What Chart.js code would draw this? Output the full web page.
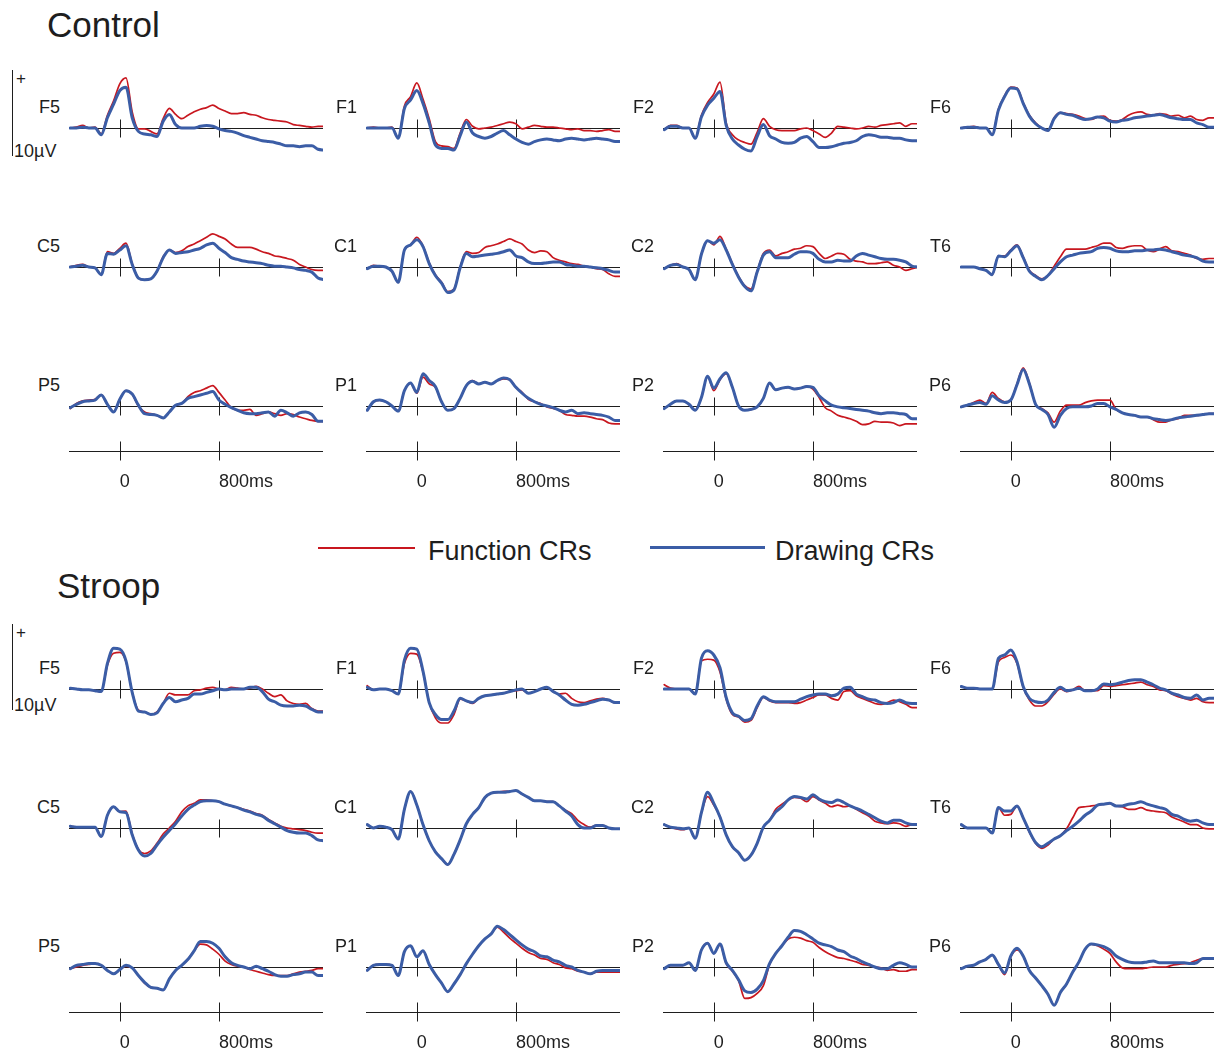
<!DOCTYPE html>
<html>
<head>
<meta charset="utf-8">
<title>ERP waveforms: Function CRs vs Drawing CRs</title>
<script src="https://cdn.jsdelivr.net/npm/chart.js@4.4.1/dist/chart.umd.min.js"></script>
<style>
  html, body { margin: 0; padding: 0; background: #ffffff; }
  #fig { position: relative; width: 1214px; height: 1051px; overflow: hidden; background: #ffffff; }
  #fig canvas { position: absolute; }
</style>
</head>
<body>
<div id="fig"></div>
<script>
// Sample times (ms) shared by every waveform
const times = [-400,-350,-300,-250,-200,-150,-100,-50,0,50,100,150,200,250,300,350,400,450,500,550,600,650,700,750,800,850,900,950,1000,1050,1100,1150,1200,1250,1300,1350,1400,1450,1500,1550,1600,1650];
const electrodes = ['F5','F1','F2','F6','C5','C1','C2','T6','P5','P1','P2','P6'];
const timeTicks = [0, 800];
const timeTickLabels = ['0', '800ms'];
const seriesNames = ['Function CRs', 'Drawing CRs'];

// ---- Control task (µV) ----
const controlF5Function = [0,0.1,0.3,0,0.1,-0.7,1.5,3.2, 5.2,5.9,1.9,-0.1,-0.1,-0.4,-0.7,1.1, 2.3,1.6,1.1,1.5,1.9,2.2,2.4,2.7, 2.3,2.0,1.7,1.7,1.8,1.6,1.5,1.2, 1.0,0.9,0.8,0.7,0.4,0.3,0.2,0.1, 0.2,0.2];
const controlF5Drawing  = [0,0,0.1,0,0,-0.8,1.2,2.8, 4.4,4.8,1.2,-0.4,-0.7,-0.8,-1.0,0.8, 1.6,0.4,0,0,0,0.2,0.3,0.2, -0.1,-0.3,-0.4,-0.6,-0.9,-1.1,-1.3,-1.5, -1.6,-1.7,-1.9,-2.1,-2.1,-2.2,-2.1,-2.1, -2.5,-2.6];
const controlF1Function = [0,0.1,0,0,0.1,-1.2,2.6,3.7, 5.3,3.4,1.1,-1.6,-2.1,-2.2,-2.4,-0.6, 1.0,0.2,-0.1,0,0.1,0.3,0.5,0.7, 0.5,-0.1,0.1,0.3,0.2,0.1,0.1,0, -0.1,-0.2,-0.1,-0.3,-0.3,-0.4,-0.3,-0.2, -0.4,-0.4];
const controlF1Drawing  = [0,0,0,0,0,-1.2,2.3,3.3, 4.4,2.9,0.6,-2.0,-2.4,-2.4,-2.6,-0.9, 0.7,-0.6,-1.0,-1.2,-1.0,-0.6,-0.3,-0.8, -1.3,-1.7,-1.9,-1.6,-1.4,-1.3,-1.4,-1.5, -1.3,-1.2,-1.3,-1.4,-1.3,-1.2,-1.3,-1.4, -1.6,-1.6];
const controlF2Function = [-0.2,0.3,0.3,0,0,-1.2,1.5,3.0, 4.0,5.4,0.6,-0.8,-1.4,-1.7,-1.9,-0.5, 1.1,0.2,-0.2,-0.3,-0.3,-0.3,-0.1,0, -0.3,-0.7,-1.1,-0.6,0.2,0.1,0,-0.1, 0,0.2,0.1,0.3,0.4,0.5,0.6,0.2, 0.5,0.5];
const controlF2Drawing  = [-0.2,0.2,0.2,0,0,-1.2,1.3,2.7, 3.5,4.3,0.3,-1.3,-2.0,-2.5,-2.7,-1.0, 0.4,-0.9,-1.3,-1.7,-1.8,-1.7,-1.2,-1.0, -1.6,-2.3,-2.3,-2.2,-2.0,-1.8,-1.7,-1.5, -1.0,-0.8,-0.9,-1.1,-1.1,-1.2,-1.2,-1.4, -1.5,-1.5];
const controlF6Function = [0,0.1,0.2,0,0,-0.8,2.2,3.8, 4.8,4.7,3.0,1.5,0.6,0,-0.3,1.2, 1.8,1.7,1.6,1.4,1.1,1.0,1.3,1.4, 0.9,0.8,1.0,1.5,1.8,1.9,1.6,1.5, 1.7,1.6,1.4,1.5,1.2,1.4,1.0,0.9, 1.2,1.2];
const controlF6Drawing  = [0,0.1,0.1,0,0,-0.8,2.1,3.7, 4.7,4.6,2.9,1.4,0.5,0,-0.3,1.1, 1.8,1.6,1.5,1.2,1.0,1.1,1.3,1.2, 0.8,0.7,0.9,1.0,1.2,1.3,1.4,1.5, 1.6,1.4,1.2,1.1,1.0,1.0,0.6,0.4, 0.1,0.1];
const controlC5Function = [0,0.2,0.3,0,-0.1,-0.9,1.8,1.6, 2.2,2.8,0.4,-1.3,-1.5,-1.4,-0.5,1.2, 2.0,1.7,1.9,2.4,2.7,3.1,3.5,3.9, 3.6,3.3,2.7,2.3,2.3,2.3,2.1,1.8, 1.6,1.3,1.2,1.0,0.8,0.3,0,-0.3, -0.4,-0.4];
const controlC5Drawing  = [0,0.1,0.2,0,-0.1,-0.9,1.6,1.5, 2.0,2.5,0.3,-1.3,-1.5,-1.4,-0.5,1.1, 2.0,1.6,1.7,1.8,2.0,2.2,2.6,2.8, 2.2,1.7,1.1,0.9,0.7,0.6,0.5,0.4, 0.2,0.1,0.1,0,-0.1,-0.3,-0.4,-0.6, -1.3,-1.5];
const controlC1Function = [-0.2,0.2,0.1,0,-0.5,-1.8,2.0,2.6, 3.5,2.5,0.5,-0.9,-1.8,-2.9,-2.6,0, 1.8,1.6,1.7,2.3,2.5,2.7,3.0,3.3, 3.0,2.7,2.0,1.7,1.9,1.8,1.1,0.8, 0.6,0.4,0.3,0.1,0,-0.2,-0.3,-0.8, -1.1,-1.1];
const controlC1Drawing  = [-0.2,0.1,0.1,0,-0.5,-1.8,2.0,2.6, 3.2,2.4,0.4,-1.0,-1.9,-3.0,-2.7,-0.1, 1.6,1.2,1.3,1.4,1.5,1.6,1.8,2.0, 1.3,1.1,0.6,0.4,0.4,0.5,0.6,0.6, 0.3,0.2,0.1,0.1,0,-0.1,-0.2,-0.4, -0.6,-0.6];
const controlC2Function = [-0.2,0.2,0.4,0,-0.3,-1.5,1.5,3.1, 2.6,3.6,2.1,0.4,-1.1,-2.2,-2.6,-0.5, 1.6,2.0,1.3,1.6,1.8,2.1,2.2,2.5, 2.4,1.6,1.0,1.3,1.6,1.5,0.9,0.7, 0.6,0.4,0.4,0.5,0.6,0.2,0,-0.4, -0.2,0];
const controlC2Drawing  = [-0.2,0.2,0.3,0,-0.3,-1.5,1.5,3.1, 2.8,3.2,2.0,0.3,-1.2,-2.3,-2.8,-0.6, 1.4,1.8,1.1,1.1,1.1,1.5,1.8,1.8, 1.6,0.9,0.6,0.6,0.8,0.7,0.7,1.3, 1.6,1.4,1.2,1.0,0.9,0.9,0.8,0.6, 0.1,0];
const controlT6Function = [0,0,0,-0.2,-0.4,-0.9,1.3,1.3, 2.0,2.6,1.2,-0.4,-1.0,-1.4,-1.0,0.1, 1.2,2.1,2.1,2.1,2.1,2.3,2.5,2.8, 2.8,2.3,2.2,2.4,2.5,2.5,2.0,1.8, 2.1,2.4,1.9,1.8,1.6,1.4,1.0,0.9, 1.0,1.0];
const controlT6Drawing  = [0,0,0,-0.2,-0.4,-0.9,1.3,1.2, 1.9,2.5,1.1,-0.5,-1.1,-1.5,-1.0,-0.2, 0.6,1.2,1.4,1.6,1.7,1.8,2.2,2.3, 2.2,1.9,1.8,1.8,1.9,1.9,2.0,2.0, 2.1,2.0,1.8,1.6,1.4,1.3,1.1,0.7, 0.6,0.6];
const controlP5Function = [-0.3,0.3,0.6,0.7,0.8,1.3,0.2,-0.7, 0.8,1.8,1.4,0,-0.7,-0.9,-1.1,-1.4, -0.7,0.1,0.3,1.1,1.6,1.8,2.1,2.4, 1.6,0.7,-0.2,-0.5,-0.5,-0.4,-1.1,-0.9, -0.7,-0.9,-1.1,-0.9,-1.0,-1.3,-1.5,-1.7, -1.8,-1.8];
const controlP5Drawing  = [-0.2,0.2,0.5,0.6,0.7,1.3,0.2,-0.7, 0.8,1.8,1.4,0.1,-0.9,-1.0,-1.1,-1.4, -0.7,0.1,0.3,0.9,1.1,1.3,1.5,1.7, 0.7,0.2,-0.2,-0.5,-0.8,-0.9,-0.9,-0.8, -0.7,-1.2,-0.5,-0.8,-1.2,-0.8,-0.7,-1.0, -1.8,-1.8];
const controlP1Function = [-0.5,0.5,0.7,0.5,0,-0.6,1.8,2.7, 1.5,3.4,2.6,2.2,0.5,-0.5,-0.3,0.9, 2.4,3.0,2.6,2.8,2.6,3.0,3.2,3.1, 2.2,1.6,0.8,0.5,0.3,-0.1,-0.3,-0.5, -1.0,-1.1,-1.2,-1.2,-1.3,-1.5,-1.6,-2.0, -2.1,-2.1];
const controlP1Drawing  = [-0.5,0.5,0.7,0.5,0,-0.6,1.8,2.7, 1.6,3.8,3.0,2.3,0.5,-0.5,-0.3,0.9, 2.4,2.9,2.6,2.8,2.6,3.0,3.3,3.1, 2.2,1.5,0.9,0.5,0.2,0,-0.2,-0.5, -0.7,-0.5,-0.9,-0.8,-0.9,-1.0,-1.1,-1.3, -1.7,-1.7];
const controlP2Function = [-0.3,0.2,0.6,0.6,0.2,-0.5,1.0,3.5, 1.8,3.1,3.8,2.2,0,-0.5,-0.4,-0.1, 0.9,2.7,1.9,2.1,2.2,2.0,2.1,2.3, 2.0,1.0,-0.2,-0.6,-1.1,-1.3,-1.5,-1.8, -2.2,-2.1,-1.8,-1.9,-1.9,-2.0,-2.3,-2.1, -2.1,-2.1];
const controlP2Drawing  = [-0.3,0.2,0.6,0.6,0.2,-0.5,1.0,3.5, 2.1,3.2,3.9,2.2,0,-0.5,-0.4,-0.1, 0.9,2.7,1.9,2.1,2.2,2.0,2.1,2.3, 2.2,1.2,0.6,0.1,-0.1,-0.2,-0.3,-0.4, -0.5,-0.6,-0.8,-0.9,-0.8,-0.8,-0.9,-1.0, -1.5,-1.5];
const controlP6Function = [-0.1,0.1,0.4,0.7,0.3,1.6,0.9,0.5, 0.7,2.6,4.5,2.7,0.2,-0.3,-0.8,-1.9, -0.6,0.1,0.1,0.1,0.4,0.6,0.7,0.7, 0.7,-0.4,-0.8,-1.0,-1.1,-1.3,-1.3,-1.6, -1.9,-1.9,-1.6,-1.5,-1.1,-1.1,-1.1,-1.0, -0.9,-0.9];
const controlP6Drawing  = [-0.1,0.1,0.3,0.4,0.2,1.2,0.7,0.4, 0.7,2.5,4.3,2.6,0.2,-0.4,-1.0,-2.5, -1.1,-0.3,-0.1,-0.1,-0.1,0,0.3,0.3, -0.1,-0.4,-0.8,-1.0,-1.1,-1.3,-1.3,-1.5, -1.6,-1.7,-1.6,-1.4,-1.3,-1.2,-1.1,-1.0, -0.9,-0.9];

// ---- Stroop task (µV) ----
const stroopF5Function = [0.1,0,-0.1,-0.1,-0.2,-0.3,2.8,4.2, 4.3,3.2,-0.4,-2.5,-2.7,-3.0,-2.7,-1.7, -0.5,-0.7,-0.7,-0.7,-0.2,-0.1,0.1,0.2, 0,-0.1,0.2,0.1,0,0.1,0.3,0, -0.5,-0.9,-0.7,-1.4,-1.7,-1.8,-1.7,-2.3, -2.6,-2.6];
const stroopF5Drawing  = [0.1,0,-0.1,-0.1,-0.2,-0.3,3.0,4.8, 4.7,3.3,-0.4,-2.6,-2.7,-3.0,-2.8,-1.7, -1.0,-1.5,-1.3,-1.1,-0.6,-0.6,-0.4,-0.2, 0,-0.1,0,0,0,0.2,0.2,-0.3, -1.2,-1.5,-1.9,-2.0,-2.0,-1.9,-2.0,-2.4, -2.7,-2.7];
const stroopF1Function = [0.4,-0.1,0,0,-0.2,-0.6,3.0,4.2, 4.1,2.0,-1.6,-3.4,-4.0,-4.0,-3.0,-1.2, -1.4,-1.7,-1.1,-0.8,-0.7,-0.6,-0.5,-0.3, -0.2,-0.1,-0.5,-0.3,0,0.2,-0.3,-0.6, -0.5,-1.1,-1.5,-1.6,-1.4,-1.2,-1.1,-1.3, -1.6,-1.6];
const stroopF1Drawing  = [0.2,-0.1,0,0,-0.2,-0.6,3.4,4.8, 4.7,2.1,-1.6,-3.0,-3.6,-3.6,-2.6,-1.1, -1.4,-1.6,-1.1,-0.8,-0.7,-0.6,-0.5,-0.3, -0.1,0,-0.5,-0.3,0,0.2,-0.3,-0.7, -1.3,-1.8,-1.9,-1.8,-1.6,-1.4,-1.2,-1.3, -1.6,-1.6];
const stroopF2Function = [0.5,0.1,0,0,0,-0.6,3.3,3.5, 3.4,2.0,-1.2,-3.0,-3.3,-3.9,-3.7,-2.2, -1.0,-1.4,-1.6,-1.6,-1.6,-1.7,-1.6,-1.3, -1.0,-0.7,-0.7,-1.1,-1.3,-0.3,-0.2,-0.8, -1.1,-1.4,-1.7,-1.8,-1.6,-1.3,-1.5,-1.8, -2.2,-2.2];
const stroopF2Drawing  = [0,0,0,0,0,-0.6,3.6,4.5, 4.0,2.5,-1.0,-2.8,-3.2,-3.7,-3.5,-2.0, -0.9,-1.3,-1.5,-1.5,-1.5,-1.5,-1.2,-0.9, -0.7,-0.6,-0.6,-0.8,-0.6,0.1,0.2,-0.6, -0.9,-1.2,-1.3,-1.6,-1.7,-1.6,-1.3,-1.6, -1.7,-1.7];
const stroopF6Function = [0.3,0.1,0.1,0,0,0,3.2,3.7, 4.0,3.0,0.2,-1.3,-2.0,-2.0,-1.5,-0.6, 0,-0.3,-0.1,0.3,-0.2,-0.2,-0.2,0.4, 0.3,0.4,0.5,0.6,0.7,0.8,0.5,0.3, -0.1,-0.2,-0.6,-0.9,-1.1,-1.3,-1.1,-1.5, -1.6,-1.6];
const stroopF6Drawing  = [0.3,0.1,0.1,0,0,0,3.6,4.0, 4.6,3.2,0.3,-1.1,-1.5,-1.6,-1.3,-0.4, 0.2,-0.2,-0.1,0.1,-0.2,-0.2,0,0.6, 0.5,0.6,0.8,1.0,1.1,1.1,0.8,0.5, 0.1,-0.1,-0.5,-0.7,-1.0,-1.1,-0.7,-1.3, -1.1,-1.1];
const stroopC5Function = [0.2,0.1,0.1,0.1,0.1,-1.0,1.5,2.5, 1.9,2.0,-0.7,-2.5,-3.0,-2.7,-1.8,-0.7, 0,0.8,1.9,2.6,2.9,3.3,3.3,3.2, 3.1,2.8,2.6,2.4,2.2,2.0,1.7,1.5, 1.0,0.6,0.2,0,-0.1,-0.2,-0.3,-0.5, -0.6,-0.6];
const stroopC5Drawing  = [0.2,0.1,0.1,0.1,0.1,-1.0,1.5,2.5, 1.9,1.8,-0.8,-2.6,-3.3,-3.0,-2.0,-1.1, -0.3,0.5,1.4,2.2,2.7,3.1,3.2,3.2, 3.1,2.8,2.6,2.4,2.1,1.9,1.6,1.4, 0.9,0.5,0.1,-0.3,-0.5,-0.6,-0.6,-0.9, -1.4,-1.5];
const stroopC1Function = [0.4,0,0.2,0.1,-0.2,-1.3,2.2,4.3, 2.7,0.4,-1.5,-2.8,-3.6,-4.3,-3.1,-1.4, 0.5,1.6,2.4,3.6,4.1,4.2,4.3,4.3, 4.4,4.0,3.6,3.2,3.2,3.1,3.1,2.6, 2.1,1.7,0.9,0.4,0.1,0.3,0.3,0, -0.1,-0.1];
const stroopC1Drawing  = [0.4,0,0.2,0.1,-0.2,-1.3,2.2,4.3, 2.7,0.4,-1.5,-2.8,-3.6,-4.3,-3.1,-1.4, 0.5,1.6,2.4,3.6,4.1,4.2,4.2,4.3, 4.4,4.0,3.6,3.2,3.2,3.1,3.1,2.6, 2.0,1.4,0.4,0,0,0.3,0.3,0, -0.1,-0.1];
const stroopC2Function = [0.4,0.1,-0.1,-0.2,0,-1.2,1.8,3.7, 2.7,1.3,-0.8,-2.2,-2.9,-3.8,-3.2,-1.8, 0.1,0.9,2.2,2.8,3.3,3.6,3.5,3.1, 3.7,3.3,2.9,2.5,2.7,2.5,2.6,2.2, 1.8,1.4,0.8,0.6,0.5,0.6,0.5,0.2, 0.4,0.4];
const stroopC2Drawing  = [0.4,0.1,0,-0.1,0,-1.2,1.8,4.2, 2.9,1.3,-0.8,-2.2,-2.9,-3.8,-3.2,-1.8, 0.1,0.9,1.9,2.5,3.3,3.7,3.6,3.4, 3.9,3.4,3.1,3.0,3.3,3.0,2.6,2.3, 2.0,1.6,1.2,0.8,0.6,0.9,0.9,0.6, 0.4,0.4];
const stroopT6Function = [0.4,0,0,0,0,-0.6,2.4,1.5, 1.6,2.6,1.2,-0.5,-1.8,-2.4,-2.0,-1.3, -0.9,-0.1,1.2,2.4,2.5,2.6,2.7,2.8, 2.9,2.6,2.5,2.2,2.2,2.4,2.1,2.0, 1.9,1.8,1.3,1.0,0.7,0.4,0.4,0, -0.1,-0.1];
const stroopT6Drawing  = [0.4,0,0,0,0,-0.6,2.4,2.0, 2.0,2.6,1.2,-0.4,-1.7,-2.2,-1.8,-1.3, -0.9,-0.3,0.2,0.8,1.5,2.0,2.7,2.8, 2.9,2.6,2.6,2.8,2.9,3.1,2.8,2.6, 2.4,2.2,1.6,1.4,1.0,0.8,0.9,0.6, 0.4,0.4];
const stroopP5Function = [-0.2,0,0.2,0.3,0.4,0.2,-0.4,-0.8, -0.3,0.1,-0.1,-1.0,-1.9,-2.4,-2.5,-2.7, -1.4,-0.4,0.2,0.9,1.9,2.7,2.6,2.1, 1.5,0.7,0.3,0.1,0,-0.3,-0.5,-0.7, -0.9,-1.0,-1.0,-1.0,-0.8,-0.6,-0.5,-0.4, -0.2,-0.2];
const stroopP5Drawing  = [-0.2,0.2,0.3,0.4,0.4,0.2,-0.4,-0.8, -0.3,0.2,-0.1,-1.0,-1.8,-2.4,-2.5,-2.7, -1.4,-0.4,0.2,0.9,1.9,3.0,3.0,2.8, 2.2,1.2,0.5,0.2,0,-0.2,0.1,-0.2, -0.5,-0.9,-1.1,-1.1,-0.9,-0.8,-0.6,-0.6, -1.0,-1.0];
const stroopP1Function = [-0.4,0.2,0.3,0.3,0.2,-1.0,1.8,2.5, 1.2,1.9,0.3,-0.9,-1.9,-2.9,-2.0,-0.9, 0.4,1.5,2.5,3.3,3.9,4.7,4.1,3.4, 2.8,2.2,1.7,1.4,1.0,0.9,0.5,0.3, -0.1,-0.2,-0.5,-0.6,-0.8,-0.6,-0.6,-0.6, -0.6,-0.6];
const stroopP1Drawing  = [-0.4,0.2,0.3,0.3,0.2,-1.0,1.8,2.5, 1.2,1.9,0.3,-0.9,-1.9,-2.9,-2.0,-0.9, 0.4,1.5,2.5,3.3,3.9,4.8,4.4,3.8, 3.2,2.6,2.1,1.8,1.3,1.2,0.8,0.6, 0.2,0,-0.4,-0.6,-0.8,-0.5,-0.4,-0.4, -0.4,-0.4];
const stroopP2Function = [-0.2,0.2,0.2,0.2,0.5,-0.4,2.0,2.8, 1.6,2.6,0.4,-0.5,-1.6,-3.7,-3.6,-3.1, -2.2,0.3,1.6,2.5,3.3,3.5,3.4,3.1, 2.9,2.3,1.8,1.4,1.1,1.0,0.8,0.6, 0.3,0.2,0,-0.1,-0.4,-0.3,-0.5,-0.5, -0.3,-0.3];
const stroopP2Drawing  = [-0.2,0.2,0.2,0.2,0.5,-0.4,2.0,2.8, 1.6,2.7,0.5,-0.4,-1.5,-2.8,-3.0,-2.6, -1.6,0.4,1.6,2.5,3.5,4.3,4.2,3.8, 3.3,2.8,2.6,2.4,2.0,1.8,1.3,1.0, 0.6,0.3,0,-0.2,-0.2,0.2,0.5,0.3, 0,0];
const stroopP6Function = [-0.2,0.1,0.2,0.6,0.9,1.4,0.3,-0.9, 1.2,2.0,1.3,-0.4,-1.3,-2.2,-3.2,-4.5, -3.0,-2.0,-0.6,0.6,2.1,2.7,2.5,2.1, 1.6,0.6,-0.1,-0.2,-0.2,-0.2,-0.1,0, 0,0,0.2,0.3,0.4,0.5,0.8,1.0, 1.0,1.0];
const stroopP6Drawing  = [-0.2,0.1,0.2,0.6,0.9,1.4,0.3,-0.7, 1.3,2.2,1.3,-0.4,-1.3,-2.2,-3.2,-4.5, -3.0,-2.0,-0.6,0.6,2.1,2.7,2.6,2.4, 2.0,1.3,0.9,0.6,0.5,0.5,0.6,0.7, 0.5,0.5,0.5,0.5,0.5,0.4,0.5,1.0, 1.0,1.0];

// Per-task lookup: electrode -> [Function CRs, Drawing CRs]
const controlSeries = {
  F5: [controlF5Function, controlF5Drawing], F1: [controlF1Function, controlF1Drawing],
  F2: [controlF2Function, controlF2Drawing], F6: [controlF6Function, controlF6Drawing],
  C5: [controlC5Function, controlC5Drawing], C1: [controlC1Function, controlC1Drawing],
  C2: [controlC2Function, controlC2Drawing], T6: [controlT6Function, controlT6Drawing],
  P5: [controlP5Function, controlP5Drawing], P1: [controlP1Function, controlP1Drawing],
  P2: [controlP2Function, controlP2Drawing], P6: [controlP6Function, controlP6Drawing]
};
const stroopSeries = {
  F5: [stroopF5Function, stroopF5Drawing], F1: [stroopF1Function, stroopF1Drawing],
  F2: [stroopF2Function, stroopF2Drawing], F6: [stroopF6Function, stroopF6Drawing],
  C5: [stroopC5Function, stroopC5Drawing], C1: [stroopC1Function, stroopC1Drawing],
  C2: [stroopC2Function, stroopC2Drawing], T6: [stroopT6Function, stroopT6Drawing],
  P5: [stroopP5Function, stroopP5Drawing], P1: [stroopP1Function, stroopP1Drawing],
  P2: [stroopP2Function, stroopP2Drawing], P6: [stroopP6Function, stroopP6Drawing]
};

// ---- Layout and styling ----
const FONT = '"Liberation Sans", Arial, Helvetica, sans-serif';
const RED = '#c8171f';
const BLUE = '#3b5da6';
const INK = '#1e1e1e';
const layout = {
  colLeft: [69, 366, 663, 960],
  panelWidth: 254,
  xMin: -410, xMax: 1640,
  pxPerUv: 8.5,
  above: 8,        // µV visible above each baseline
  below: 6,        // µV visible below the baseline (upper rows)
  axisGap: 46,     // px from the last row baseline to the time axis
  axisLabelSpace: 40
};
const sections = [
  { title: 'Control', series: controlSeries, rows: [128, 267, 406], titleLeft: 47, titleTop: 7, barTop: 70 },
  { title: 'Stroop',  series: stroopSeries,  rows: [689, 828, 967], titleLeft: 57, titleTop: 568, barTop: 624 }
];

const fig = document.getElementById('fig');
function addText(text, css) {
  const d = document.createElement('div');
  d.textContent = text;
  Object.assign(d.style, { position: 'absolute', whiteSpace: 'nowrap', fontFamily: FONT, color: INK, lineHeight: '1' }, css);
  fig.appendChild(d);
  return d;
}
function addRule(css) {
  const d = document.createElement('div');
  Object.assign(d.style, { position: 'absolute' }, css);
  fig.appendChild(d);
  return d;
}

// Baseline, onset/800 ms markers and (bottom row) the time axis
const panelGuides = {
  id: 'panelGuides',
  beforeDatasetsDraw(chart, args, opts) {
    const { ctx, chartArea, scales } = chart;
    const x = scales.x, y = scales.y;
    ctx.save();
    ctx.strokeStyle = INK;
    ctx.lineWidth = 1;
    ctx.beginPath();
    const y0 = Math.round(y.getPixelForValue(0)) + 0.5;
    ctx.moveTo(chartArea.left, y0);
    ctx.lineTo(chartArea.right, y0);
    for (const t of timeTicks) {
      const px = Math.round(x.getPixelForValue(t)) + 0.5;
      ctx.moveTo(px, y0 - 9);
      ctx.lineTo(px, y0 + 9);
    }
    if (opts.timeAxis) {
      const ya = Math.round(chartArea.bottom) - 0.5;
      ctx.moveTo(chartArea.left, ya);
      ctx.lineTo(chartArea.right, ya);
      for (const t of timeTicks) {
        const px = Math.round(x.getPixelForValue(t)) + 0.5;
        ctx.moveTo(px, ya - 10);
        ctx.lineTo(px, ya + 9);
      }
    }
    ctx.stroke();
    ctx.restore();
  }
};

function toPoints(values) {
  return values.map((v, i) => ({ x: times[i], y: v }));
}

function makePanel(section, rowIndex, colIndex, electrode) {
  const isBottom = rowIndex === 2;
  const baseline = section.rows[rowIndex];
  const yMin = isBottom ? -layout.axisGap / layout.pxPerUv : -layout.below;
  const areaH = Math.round((layout.above - yMin) * layout.pxPerUv);
  const h = areaH + (isBottom ? layout.axisLabelSpace : 0);
  const left = layout.colLeft[colIndex];
  const top = baseline - layout.above * layout.pxPerUv;

  const canvas = document.createElement('canvas');
  canvas.width = layout.panelWidth;
  canvas.height = h;
  Object.assign(canvas.style, { left: left + 'px', top: top + 'px', width: layout.panelWidth + 'px', height: h + 'px' });
  fig.appendChild(canvas);

  const xScale = {
    type: 'linear',
    min: layout.xMin,
    max: layout.xMax,
    display: isBottom,
    position: 'bottom',
    grid: { display: false, drawTicks: false },
    border: { display: false }
  };
  if (isBottom) {
    Object.assign(xScale, {
      afterBuildTicks: axis => { axis.ticks = timeTicks.map(v => ({ value: v })); },
      afterFit: axis => { axis.height = layout.axisLabelSpace; },
      ticks: {
        align: 'start',
        padding: 19,
        autoSkip: false,
        maxRotation: 0,
        color: INK,
        font: { family: FONT, size: 18 },
        callback: value => timeTickLabels[timeTicks.indexOf(value)]
      }
    });
  }

  const [fnVals, drVals] = section.series[electrode];
  new Chart(canvas, {
    type: 'line',
    data: {
      datasets: [
        { label: seriesNames[1], data: toPoints(drVals), borderColor: BLUE, borderWidth: 3 },
        { label: seriesNames[0], data: toPoints(fnVals), borderColor: RED, borderWidth: 1.7 }
      ]
    },
    options: {
      responsive: false,
      animation: false,
      devicePixelRatio: 1,
      events: [],
      layout: { padding: 0 },
      elements: {
        point: { radius: 0 },
        line: { cubicInterpolationMode: 'monotone', borderJoinStyle: 'round', borderCapStyle: 'round', fill: false }
      },
      plugins: {
        legend: { display: false },
        tooltip: { enabled: false },
        panelGuides: { timeAxis: isBottom }
      },
      scales: {
        x: xScale,
        y: { type: 'linear', min: yMin, max: layout.above, display: false }
      }
    },
    plugins: [panelGuides]
  });

  // electrode name, right-aligned just left of the trace
  addText(electrode, {
    left: (left - 69) + 'px', width: '60px', textAlign: 'right',
    top: (baseline - 30) + 'px', fontSize: '18px'
  });
}

for (const section of sections) {
  addText(section.title, { left: section.titleLeft + 'px', top: section.titleTop + 'px', fontSize: '35px' });
  // amplitude scale bar
  addRule({ left: '12px', top: section.barTop + 'px', width: '1px', height: '86px', background: INK });
  addText('+', { left: '16px', top: (section.barTop) + 'px', fontSize: '17px' });
  addText('10\u00b5V', { left: '14px', top: (section.barTop + 72) + 'px', fontSize: '18px' });
  electrodes.forEach((el, i) => makePanel(section, Math.floor(i / 4), i % 4, el));
}

// legend between the two tasks
addRule({ left: '318px', top: '547px', width: '97px', height: '2px', background: RED });
addText(seriesNames[0], { left: '428px', top: '538px', fontSize: '27px' });
addRule({ left: '650px', top: '546px', width: '115px', height: '3px', background: BLUE });
addText(seriesNames[1], { left: '775px', top: '538px', fontSize: '27px' });
</script>
</body>
</html>
